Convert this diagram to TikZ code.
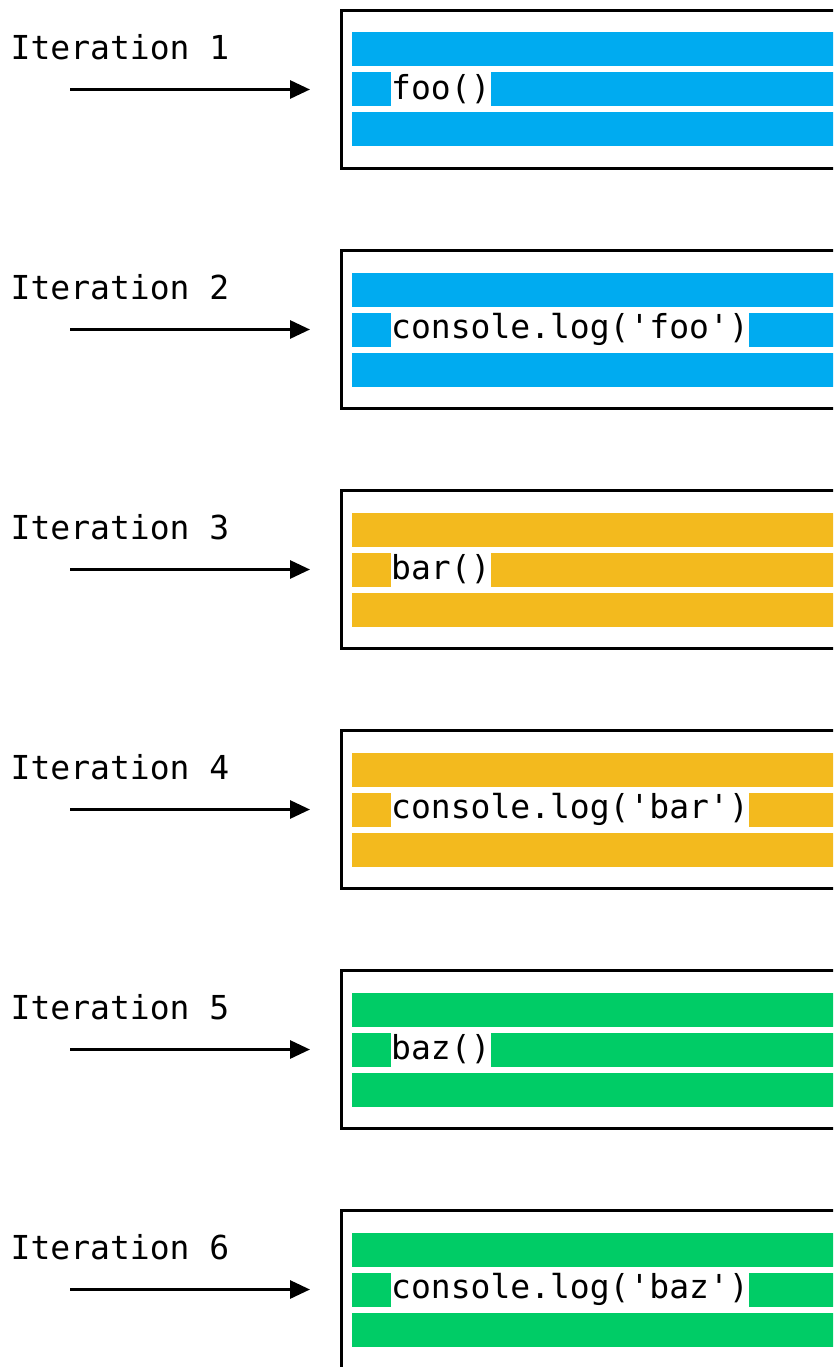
\documentclass[tikz,border=0pt]{standalone}
\usepackage{fontspec}
\newfontfamily\codefont{DejaVu Sans Mono}
\usetikzlibrary{arrows.meta, positioning}

\definecolor{loopblue}{RGB}{0,171,240}
\definecolor{loopyellow}{RGB}{243,186,30}
\definecolor{loopgreen}{RGB}{0,204,102}

\tikzset{
	iterlabel/.style={font=\codefont\fontsize{33}{36}\selectfont, inner sep=0pt},
	codebox/.style={draw, line width=3pt, minimum width=540pt, minimum height=158pt},
	bar/.style={fill=#1, minimum width=520pt, minimum height=34pt, inner sep=0pt},
	code/.style={font=\codefont\fontsize{33}{36}\selectfont, fill=white, anchor=west,
		minimum height=34pt, inner xsep=0pt, inner ysep=0pt},
	tick/.style={line width=3pt, -{Triangle[length=20pt,width=18pt]}, shorten >=30pt}
}

\begin{document}
\begin{tikzpicture}[x=1pt,y=1pt,on grid,node distance=240pt]
	
	\path [use as bounding box, clip] (0,0) rectangle (833,-1367);
	
	% iteration 1
	\node (lab1) [iterlabel] at (120,-47.5) {Iteration 1};
	\node (box1) [codebox] at (611.5,-89.5) {};
	\node (top1) [bar=loopblue, above=40pt of box1] {};
	\node (mid1) [bar=loopblue] at (box1) {};
	\node (bot1) [bar=loopblue, below=40pt of box1] {};
	\node (code1) [code] at ([xshift=-220.5pt]box1.center) {foo()};
	\coordinate [left=270pt of box1.west] (tail1);
	\draw [tick] (tail1) -- (box1.west);
	
	% iteration 2
	\node (lab2) [iterlabel, below=of lab1] {Iteration 2};
	\node (box2) [codebox, below=of box1] {};
	\node (top2) [bar=loopblue, above=40pt of box2] {};
	\node (mid2) [bar=loopblue] at (box2) {};
	\node (bot2) [bar=loopblue, below=40pt of box2] {};
	\node (code2) [code] at ([xshift=-220.5pt]box2.center) {console.log('foo')};
	\coordinate [left=270pt of box2.west] (tail2);
	\draw [tick] (tail2) -- (box2.west);
	
	% iteration 3
	\node (lab3) [iterlabel, below=of lab2] {Iteration 3};
	\node (box3) [codebox, below=of box2] {};
	\node (top3) [bar=loopyellow, above=40pt of box3] {};
	\node (mid3) [bar=loopyellow] at (box3) {};
	\node (bot3) [bar=loopyellow, below=40pt of box3] {};
	\node (code3) [code] at ([xshift=-220.5pt]box3.center) {bar()};
	\coordinate [left=270pt of box3.west] (tail3);
	\draw [tick] (tail3) -- (box3.west);
	
	% iteration 4
	\node (lab4) [iterlabel, below=of lab3] {Iteration 4};
	\node (box4) [codebox, below=of box3] {};
	\node (top4) [bar=loopyellow, above=40pt of box4] {};
	\node (mid4) [bar=loopyellow] at (box4) {};
	\node (bot4) [bar=loopyellow, below=40pt of box4] {};
	\node (code4) [code] at ([xshift=-220.5pt]box4.center) {console.log('bar')};
	\coordinate [left=270pt of box4.west] (tail4);
	\draw [tick] (tail4) -- (box4.west);
	
	% iteration 5
	\node (lab5) [iterlabel, below=of lab4] {Iteration 5};
	\node (box5) [codebox, below=of box4] {};
	\node (top5) [bar=loopgreen, above=40pt of box5] {};
	\node (mid5) [bar=loopgreen] at (box5) {};
	\node (bot5) [bar=loopgreen, below=40pt of box5] {};
	\node (code5) [code] at ([xshift=-220.5pt]box5.center) {baz()};
	\coordinate [left=270pt of box5.west] (tail5);
	\draw [tick] (tail5) -- (box5.west);
	
	% iteration 6
	\node (lab6) [iterlabel, below=of lab5] {Iteration 6};
	\node (box6) [codebox, below=of box5] {};
	\node (top6) [bar=loopgreen, above=40pt of box6] {};
	\node (mid6) [bar=loopgreen] at (box6) {};
	\node (bot6) [bar=loopgreen, below=40pt of box6] {};
	\node (code6) [code] at ([xshift=-220.5pt]box6.center) {console.log('baz')};
	\coordinate [left=270pt of box6.west] (tail6);
	\draw [tick] (tail6) -- (box6.west);
	
\end{tikzpicture}
\end{document}
